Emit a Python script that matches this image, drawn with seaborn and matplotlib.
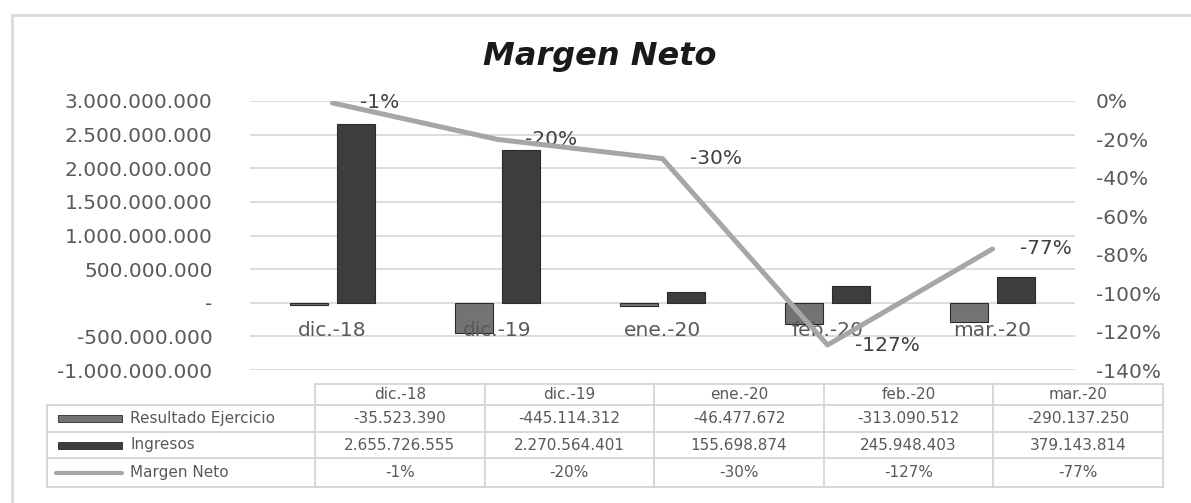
import numpy as np
import pandas as pd
import matplotlib
matplotlib.use("Agg")
import matplotlib.pyplot as plt
import seaborn as sns
from matplotlib.ticker import FuncFormatter, MultipleLocator
from matplotlib.patches import Rectangle

# chart data
meses = ["dic.-18", "dic.-19", "ene.-20", "feb.-20", "mar.-20"]
resultado = [-35523390, -445114312, -46477672, -313090512, -290137250]
ingresos = [2655726555, 2270564401, 155698874, 245948403, 379143814]
margen = [-1, -20, -30, -127, -77]
series = ["Resultado Ejercicio", "Ingresos", "Margen Neto"]

W, H = 1191, 503
txt_grey = "#595959"
grid_grey = "#d9d9d9"
colores = {"Resultado Ejercicio": "#737373", "Ingresos": "#3d3d3d"}
linea_color = "#a6a6a6"

sns.set_theme(style="white")
plt.rcParams["font.family"] = ["DejaVu Sans"]


def miles(v):
    """Formato con punto como separador de miles."""
    return f"{v:,.0f}".replace(",", ".")


fig = plt.figure(figsize=(W / 100, H / 100), dpi=100)

# background axes in pixel units for frame + data table
tab = fig.add_axes([0, 0, 1, 1])
tab.set_xlim(0, W)
tab.set_ylim(H, 0)
tab.axis("off")
tab.plot([12, 12], [15, H + 10], color=grid_grey, lw=2, clip_on=True)
tab.plot([12, W + 10], [15, 15], color=grid_grey, lw=2, clip_on=True)

# plot area
left, right, top, bottom = 250, 1075, 101, 370
ax = fig.add_axes([left / W, 1 - bottom / H, (right - left) / W, (bottom - top) / H])
ax.set_facecolor("none")

df = pd.DataFrame({
    "mes": meses * 2,
    "valor": resultado + ingresos,
    "serie": [series[0]] * len(meses) + [series[1]] * len(meses),
})
sns.barplot(data=df, x="mes", y="valor", hue="serie", palette=colores,
            width=0.57, gap=0.2, edgecolor="#2b2b2b", linewidth=0.8,
            legend=False, ax=ax, zorder=3)

ax.set_xlim(-0.5, len(meses) - 0.5)
ax.set_ylim(-1e9, 3e9)
ax.yaxis.set_major_locator(MultipleLocator(5e8))
ax.yaxis.set_major_formatter(FuncFormatter(lambda v, p: "-" if v == 0 else miles(v)))
ax.grid(axis="y", color=grid_grey, lw=1.3, zorder=0)
ax.grid(axis="x", visible=False)
ax.set_xticks(range(len(meses)))
ax.set_xticklabels([])
ax.tick_params(axis="x", length=0)
ax.tick_params(axis="y", length=0, pad=27, labelsize=14.5, labelcolor=txt_grey)
ax.set_xlabel("")
ax.set_ylabel("")
for s in ax.spines.values():
    s.set_visible(False)

# category labels just under the zero line (Excel style)
for i, m in enumerate(meses):
    ax.annotate(m, (i, 0), xytext=(0, -20), textcoords="offset points",
                ha="center", va="center", fontsize=14.5, color=txt_grey)

# secondary axis: margin line
ax2 = ax.twinx()
ax2.set_facecolor("none")
sns.lineplot(x=list(range(len(meses))), y=margen, color=linea_color, lw=3.6,
             ax=ax2, zorder=4)
ax2.set_ylim(-140, 0)
ax2.yaxis.set_major_locator(MultipleLocator(20))
ax2.yaxis.set_major_formatter(FuncFormatter(lambda v, p: f"{v:.0f}%"))
ax2.tick_params(axis="y", length=0, pad=15, labelsize=14.5, labelcolor=txt_grey)
ax2.grid(False)
ax2.set_ylabel("")
for s in ax2.spines.values():
    s.set_visible(False)

for i, m in enumerate(margen):
    ax2.annotate(f"{m}%", (i, m), xytext=(20, 0), textcoords="offset points",
                 ha="left", va="center", fontsize=14.5, color="#404040")

fig.text(600 / W, 1 - 57 / H, "Margen Neto", ha="center", va="center",
         fontsize=23, fontweight="bold", fontstyle="italic", color="#1a1a1a")

# data table under the chart
tcol0, tcol_end = 315, 1163
cw = (tcol_end - tcol0) / len(meses)
rows_y = [384, 405, 432, 458, 487]
leg_x0 = 47
line_kw = dict(color="#d4d4d4", lw=1.3)

# horizontal lines
tab.plot([tcol0, tcol_end], [rows_y[0]] * 2, **line_kw)
for y in rows_y[1:]:
    tab.plot([leg_x0, tcol_end], [y, y], **line_kw)
# vertical lines
tab.plot([leg_x0, leg_x0], [rows_y[1], rows_y[-1]], **line_kw)
for k in range(len(meses) + 1):
    x = tcol0 + k * cw
    tab.plot([x, x], [rows_y[0], rows_y[-1]], **line_kw)

fila_textos = [
    [miles(v) for v in resultado],
    [miles(v) for v in ingresos],
    [f"{v}%" for v in margen],
]
for k, m in enumerate(meses):
    cx = tcol0 + (k + 0.5) * cw
    tab.text(cx, (rows_y[0] + rows_y[1]) / 2, m, ha="center", va="center",
             fontsize=11, color=txt_grey)
    for r, fila in enumerate(fila_textos):
        cy = (rows_y[r + 1] + rows_y[r + 2]) / 2
        tab.text(cx, cy, fila[k], ha="center", va="center", fontsize=11,
                 color=txt_grey)

# legend keys inside the table
for r, nombre in enumerate(series):
    cy = (rows_y[r + 1] + rows_y[r + 2]) / 2
    if nombre in colores:
        tab.add_patch(Rectangle((58, cy - 3.5), 64, 7, facecolor=colores[nombre],
                                edgecolor="#2b2b2b", lw=0.6))
    else:
        tab.plot([56, 122], [cy, cy], color=linea_color, lw=3)
    tab.text(130, cy, nombre, ha="left", va="center", fontsize=11, color=txt_grey)

fig.savefig("out.png", dpi=100)
